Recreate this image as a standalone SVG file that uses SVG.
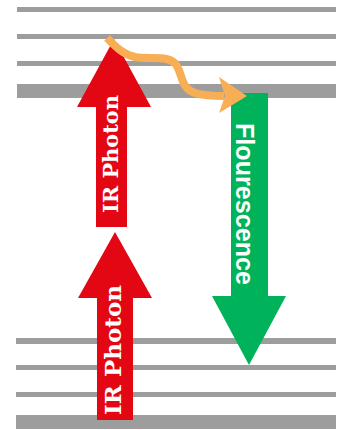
<svg xmlns="http://www.w3.org/2000/svg" width="341" height="430" viewBox="0 0 341 430">
<style>
.lvl{fill:#9d9d9d}
.red{fill:#e30613}
.grn{fill:#00b35a}
.ir{font-family:"DejaVu Serif",serif;font-weight:bold;fill:#fff}
.fl{font-family:"Liberation Sans",Arial,sans-serif;font-weight:bold;fill:#fff}
</style>
<rect width="341" height="430" fill="#fff"/>
<g id="levels-upper">
<rect class="lvl" x="17" y="7" width="319" height="5"/>
<rect class="lvl" x="17" y="34" width="319" height="5"/>
<rect class="lvl" x="17" y="61" width="319" height="5"/>
<rect class="lvl" x="17" y="84" width="319" height="14"/>
</g>
<g id="levels-lower">
<rect class="lvl" x="16" y="338" width="320" height="6"/>
<rect class="lvl" x="16" y="365" width="320" height="5"/>
<rect class="lvl" x="16" y="392" width="320" height="5"/>
<rect class="lvl" x="16" y="415" width="320" height="14"/>
</g>
<g id="ir-photon-lower">
<polygon class="red" points="97,420 97,298 78,298 115,232 152,298 133,298 133,420"/>
<text class="ir" font-size="23" text-anchor="middle" textLength="130" lengthAdjust="spacingAndGlyphs" transform="translate(121,350) rotate(-90)">IR Photon</text>
</g>
<g id="ir-photon-upper">
<polygon class="red" points="96,227 96,107 77,107 114,39 151,107 127,107 127,227"/>
<text class="ir" font-size="21" text-anchor="middle" textLength="118" lengthAdjust="spacingAndGlyphs" transform="translate(118,154) rotate(-90)">IR Photon</text>
</g>
<g id="flourescence">
<polygon class="grn" points="231,93 268,93 268,296 286,296 249,365 212,296 231,296"/>
<text class="fl" font-size="25" text-anchor="middle" textLength="162" lengthAdjust="spacingAndGlyphs" transform="translate(236,204) rotate(90)">Flourescence</text>
</g>
<g id="connectors">
<path d="M107,38 C115,46 122,54 135,57 C150,60 170,54 177,66 C183,77 181,88 195,93 C205,96 214,96 224,96" fill="none" stroke="#f7ae55" stroke-width="8"/>
<polygon points="219,77 247,96 219,113 225,96" fill="#f7ae55"/>
</g>
</svg>
